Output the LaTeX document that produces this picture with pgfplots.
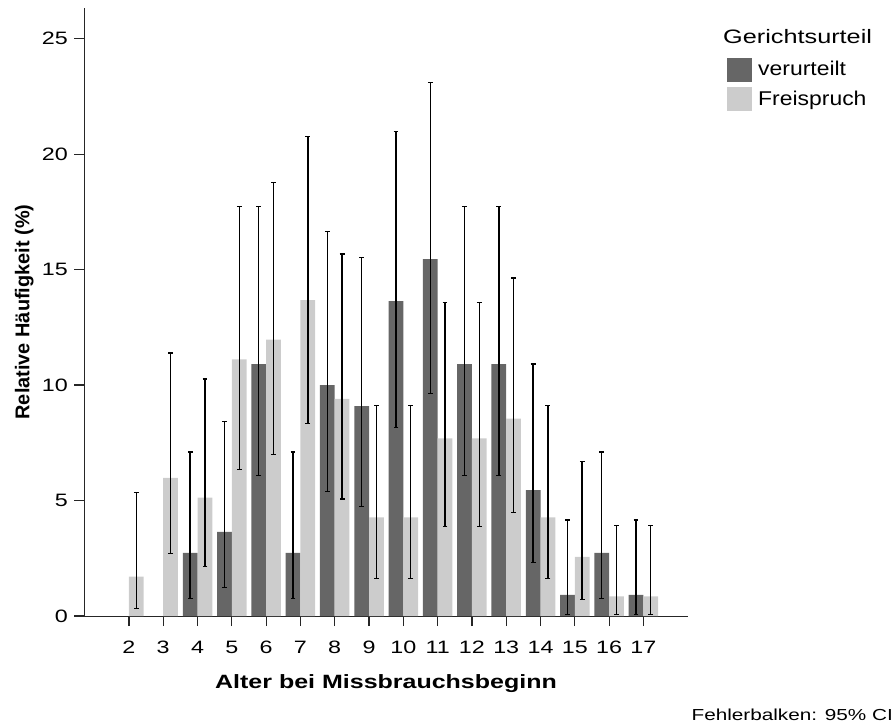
\documentclass[border=0pt]{standalone}
\usepackage{pgfplots}
\pgfplotsset{compat=1.18}
\usepackage{pgfplotstable}
\usepackage{fontspec}
\setmainfont{Liberation Sans}
\newfontfamily\widefont[FakeStretch=1.3]{Liberation Sans}
\newfontfamily\legfont[FakeStretch=1.15]{Liberation Sans}
\definecolor{darkbar}{RGB}{102,102,102}
\definecolor{lightbar}{RGB}{204,204,204}

% verurteilt (N=110): value, lower and upper 95% CI bound (percent)
\pgfplotstableread{
x  y      lo    hi
4  2.73   0.77  7.10
5  3.64   1.23  8.41
6  10.91  6.10  17.74
7  2.73   0.77  7.10
8  10.00  5.40  16.66
9  9.09   4.75  15.53
10 13.64  8.18  20.99
11 15.45  9.62  23.09
12 10.91  6.10  17.74
13 10.91  6.10  17.74
14 5.45   2.30  10.91
15 0.91   0.07  4.16
16 2.73   0.77  7.10
17 0.91   0.07  4.16
}\verurteilt

% Freispruch (N=117)
\pgfplotstableread{
x  y      lo    hi
2  1.71   0.33  5.35
3  5.98   2.69  11.39
4  5.13   2.15  10.26
5  11.11  6.36  17.74
6  11.97  7.01  18.77
7  13.68  8.35  20.78
8  9.40   5.07  15.68
9  4.27   1.63  9.12
10 4.27   1.63  9.12
11 7.69   3.86  13.58
12 7.69   3.86  13.58
13 8.55   4.48  14.64
14 4.27   1.63  9.12
15 2.56   0.71  6.68
16 0.85   0.07  3.92
17 0.85   0.07  3.92
}\freispruch

\begin{document}
\begin{tikzpicture}
\path[use as bounding box] (0,0) rectangle (896bp,724bp);
\begin{axis}[
  at={(84bp,108bp)}, anchor=south west,
  scale only axis, width=604bp, height=608bp,
  xmin=0.69, xmax=18.30, ymin=0, ymax=26.33,
  clip=false,
  axis x line*=bottom, axis y line*=left,
  axis line style={line width=1bp, black!85, -},
  xtick={2,...,17}, ytick={0,5,...,25},
  tick align=outside,
  major tick length=10bp,
  tick style={line width=1.2bp, black!85},
  /pgf/number format/assume math mode=true,
  ticklabel style={font=\widefont\fontsize{18}{21}\selectfont, inner sep=0pt},
  xticklabel style={anchor=base},
  xticklabel shift=27bp,
  yticklabel style={anchor=east},
  yticklabel shift=6bp,
  xlabel={Alter bei Missbrauchsbeginn},
  xlabel style={at={(axis description cs:0.5,-0.120)}, anchor=base, inner sep=0pt,
    font=\widefont\bfseries\fontsize{19.3}{22}\selectfont},
  ylabel={Relative Häufigkeit (\%)},
  ylabel style={at={(axis description cs:-0.0906,0.5)}, anchor=base, inner sep=0pt,
    font=\bfseries\fontsize{20}{24}\selectfont},
  legend style={at={(axis description cs:1.0646,0.9189)}, anchor=north west,
    draw=none, fill=none, inner sep=0pt, row sep=5.7bp,
    font=\legfont\fontsize{20}{23}\selectfont,
    nodes={inner sep=0pt, anchor=west},
    /tikz/every odd column/.append style={column sep=6bp}},
  legend cell align=left,
]
\addplot[ybar, bar width=0.43, bar shift=0, fill=darkbar, draw=none,
  legend image code/.code={\fill[darkbar] (0bp,-12bp) rectangle (25bp,12bp);},
  error bars/.cd, y dir=both, y explicit,
  error bar style={line width=1.4bp, black},
  error mark options={rotate=90, line width=1.2bp, black, mark size=2.4bp}]
  table[x expr=\thisrow{x}-0.215, y=y, y error plus expr=\thisrow{hi}-\thisrow{y},
        y error minus expr=\thisrow{y}-\thisrow{lo}] {\verurteilt};
\addlegendentry{verurteilt}
\addplot[ybar, bar width=0.43, bar shift=0, fill=lightbar, draw=none,
  legend image code/.code={\fill[lightbar] (0bp,-12bp) rectangle (25bp,12bp);},
  error bars/.cd, y dir=both, y explicit,
  error bar style={line width=1.4bp, black},
  error mark options={rotate=90, line width=1.2bp, black, mark size=2.4bp}]
  table[x expr=\thisrow{x}+0.215, y=y, y error plus expr=\thisrow{hi}-\thisrow{y},
        y error minus expr=\thisrow{y}-\thisrow{lo}] {\freispruch};
\addlegendentry{Freispruch}
\node[anchor=base west, inner sep=0pt, font=\widefont\fontsize{19.5}{22}\selectfont]
  at (axis description cs:1.058,0.9408) {Gerichtsurteil};
\node[anchor=base east, inner sep=0pt, font=\widefont\fontsize{16}{19}\selectfont]
  at (axis description cs:1.3394,-0.1711) {Fehlerbalken: 95\% CI};
\end{axis}
\end{tikzpicture}
\end{document}
